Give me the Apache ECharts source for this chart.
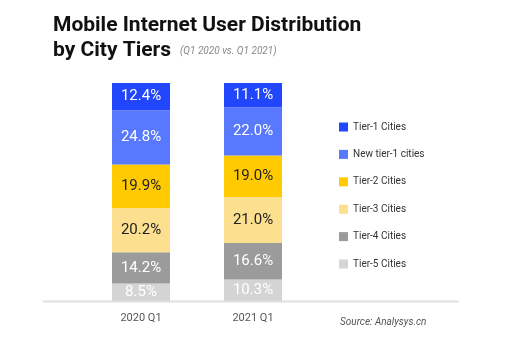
<!DOCTYPE html>
<html><head><meta charset="utf-8">
<script src="https://cdn.jsdelivr.net/npm/echarts@6/dist/echarts.min.js"></script>
<style>html,body{margin:0;padding:0;background:#fff}#c{width:512px;height:343px}</style>
</head><body><div id="c"></div>
<script>
const categories = ['2020 Q1', '2021 Q1'];
const tierNames = ['Tier-1 Cities', 'New tier-1 cities', 'Tier-2 Cities', 'Tier-3 Cities', 'Tier-4 Cities', 'Tier-5 Cities'];
const tier1 = [12.4, 11.1];
const newTier1 = [24.8, 22.0];
const tier2 = [19.9, 19.0];
const tier3 = [20.2, 21.0];
const tier4 = [14.2, 16.6];
const tier5 = [8.5, 10.3];
const colors = ['#2146fb', '#5878fd', '#ffcb00', '#fcdf8f', '#9b9b9b', '#d4d4d4'];
const labelColors = ['#fff', '#fff', '#222', '#222', '#fff', '#fff'];
const valuesByTier = [tier1, newTier1, tier2, tier3, tier4, tier5];

const chart = echarts.init(document.getElementById('c'));
const order = [5, 4, 3, 2, 1, 0];
const series = order.map(i => ({
  name: tierNames[i], type: 'bar', stack: 'total', barWidth: 58,
  data: valuesByTier[i],
  itemStyle: { color: colors[i] },
  label: { show: true, position: 'inside', formatter: p => p.value.toFixed(1) + '%',
    color: labelColors[i], fontSize: 15, fontFamily: 'Roboto', letterSpacing: 0.5 }
}));
chart.setOption({
  animation: false,
  title: [
    { text: 'Mobile Internet User Distribution\nby City Tiers', left: 48, top: 8,
      textStyle: { fontFamily: 'Roboto', fontWeight: 'bold', fontSize: 21, lineHeight: 25, color: '#111' } },
    { text: '(Q1 2020 vs. Q1 2021)', left: 175, top: 41,
      textStyle: { fontFamily: 'Roboto', fontStyle: 'italic', fontWeight: 'normal', fontSize: 10, color: '#888' } },
    { text: 'Source: Analysys.cn', left: 335, top: 312,
      textStyle: { fontFamily: 'Roboto', fontStyle: 'italic', fontWeight: 'normal', fontSize: 10, color: '#555' } }
  ],
  legend: {
    data: tierNames, orient: 'vertical', left: 334, top: 116,
    itemWidth: 9, itemHeight: 9, itemGap: 15.4, icon: 'rect',
    textStyle: { fontFamily: 'Roboto', fontSize: 10, color: '#333', lineHeight: 12 }
  },
  grid: { left: 85, width: 224, top: 83, bottom: 41 },
  xAxis: { type: 'category', data: categories,
    axisLine: { show: false }, axisTick: { show: false },
    axisLabel: { color: '#555', fontSize: 11, fontFamily: 'Roboto', margin: 11 } },
  yAxis: { type: 'value', min: 0, max: 100, show: false },
  graphic: [{ type: 'line', shape: { x1: 43, y1: 301.5, x2: 459, y2: 301.5 },
    style: { stroke: '#dde2df', lineWidth: 2 }, z: 10 }],
  series: series
});
</script></body></html>
